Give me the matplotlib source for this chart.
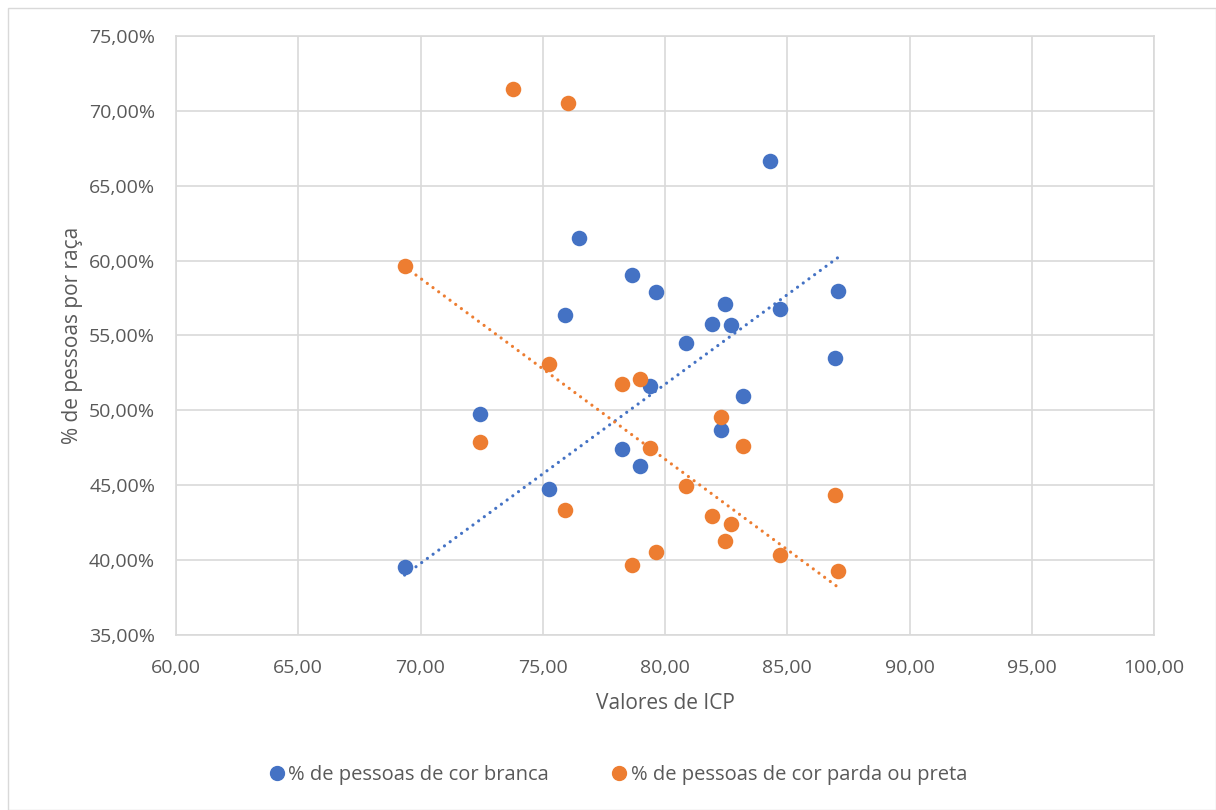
import matplotlib.pyplot as plt
import numpy as np
from matplotlib.ticker import FuncFormatter, MultipleLocator
from matplotlib.lines import Line2D
from matplotlib.patches import Rectangle

plt.rcParams['font.family'] = ['Open Sans', 'DejaVu Sans']

# ICP values and % of people by race
icp_branca = [69.35, 72.42, 75.25, 75.93, 76.47, 78.26, 78.67, 78.96, 79.40, 79.62,
              80.86, 81.93, 82.30, 82.44, 82.69, 83.20, 84.28, 84.70, 86.97, 87.07]
pct_branca = [39.56, 49.73, 44.77, 56.36, 61.52, 47.44, 59.05, 46.30, 51.62, 57.92,
              54.51, 55.75, 48.68, 57.12, 55.69, 50.95, 66.66, 56.78, 53.50, 57.96]

icp_parda = [69.35, 72.42, 73.79, 75.25, 75.93, 76.03, 78.26, 78.67, 78.96, 79.40,
             79.62, 80.86, 81.93, 82.30, 82.44, 82.69, 83.20, 84.70, 86.97, 87.07]
pct_parda = [59.65, 47.90, 71.44, 53.11, 43.36, 70.55, 51.73, 39.69, 52.08, 47.46,
             40.56, 44.94, 42.92, 49.59, 41.25, 42.40, 47.61, 40.33, 44.37, 39.25]

# trendline ends as drawn in the reference (dotted linear trend)
trend_icp = [69.35, 87.07]
trend_branca = [39.0, 60.2]
trend_parda = [59.6, 38.2]

label_branca = "% de pessoas de cor branca"
label_parda = "% de pessoas de cor parda ou preta"
blue = "#4472C4"
orange = "#ED7D31"
txt = "#595959"
grid_c = "#D9D9D9"

fig = plt.figure(figsize=(12.16, 8.10), dpi=100)
fig.patches.append(Rectangle((8/1216, 0), 1 - 8/1216, 1 - 8/810, transform=fig.transFigure,
                             fill=False, edgecolor=grid_c, lw=1))
ax = fig.add_axes([176/1216, 1 - 635/810, (1154 - 176)/1216, (635 - 36)/810])

ax.scatter(icp_branca, pct_branca, s=125, color=blue, zorder=3, linewidths=0)
ax.scatter(icp_parda, pct_parda, s=125, color=orange, zorder=3, linewidths=0)

ax.plot(trend_icp, trend_branca, color=blue, lw=2.3, linestyle=(0, (0.01, 2.2)),
        dash_capstyle='round', zorder=2)
ax.plot(trend_icp, trend_parda, color=orange, lw=2.3, linestyle=(0, (0.01, 2.2)),
        dash_capstyle='round', zorder=2)

ax.set_xlim(60, 100)
ax.set_ylim(35, 75)
ax.xaxis.set_major_locator(MultipleLocator(5))
ax.yaxis.set_major_locator(MultipleLocator(5))
ax.xaxis.set_major_formatter(FuncFormatter(lambda v, p: f"{v:.2f}".replace('.', ',')))
ax.yaxis.set_major_formatter(FuncFormatter(lambda v, p: f"{v:.2f}%".replace('.', ',')))
ax.grid(True, color=grid_c, lw=1.2, zorder=0)
ax.set_axisbelow(True)
for s in ax.spines.values():
    s.set_color(grid_c)
    s.set_linewidth(1.2)
ax.tick_params(length=0, labelsize=14, colors=txt)
ax.tick_params(axis='x', pad=17)
ax.tick_params(axis='y', pad=15)

ax.set_xlabel("Valores de ICP", fontsize=15, color=txt, labelpad=12)
ax.set_ylabel("% de pessoas por raça", fontsize=15, color=txt, labelpad=4)

handles = [Line2D([], [], marker='o', ls='', color=blue, markersize=10, label=label_branca),
           Line2D([], [], marker='o', ls='', color=orange, markersize=10, label=label_parda)]
leg = fig.legend(handles=handles, loc='center', bbox_to_anchor=(617/1216, 1 - 775/810), ncol=2,
                 frameon=False, fontsize=14.5, handletextpad=0.05, columnspacing=3.0,
                 handlelength=1.0)
for t in leg.get_texts():
    t.set_color(txt)

fig.savefig("out.png", dpi=100)
